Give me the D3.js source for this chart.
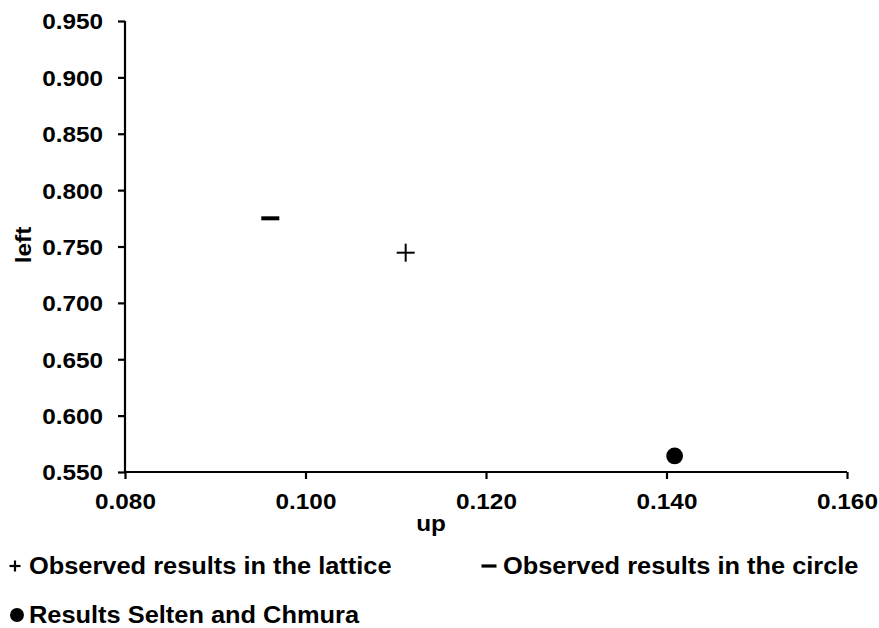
<!DOCTYPE html>
<html lang="en">

<head>
  <meta charset="utf-8">
  <title>up vs left</title>
  <script src="https://d3js.org/d3.v7.min.js"></script>
  <style>
    body { margin: 0; background: #fff; }
    text { font-family: "Liberation Sans", Arial, sans-serif; font-weight: bold; fill: #000; }
  </style>
</head>

<body>
  <script>
    // data
    var seriesNames = ['Observed results in the lattice', 'Observed results in the circle', 'Results Selten and Chmura'];
    var seriesSymbols = ['plus', 'dash', 'circle'];
    var upValues = [0.1111, 0.0961, 0.1409];
    var leftValues = [0.7445, 0.775, 0.5642];
    var xTicks = [0.080, 0.100, 0.120, 0.140, 0.160];
    var yTicks = [0.550, 0.600, 0.650, 0.700, 0.750, 0.800, 0.850, 0.900, 0.950];

    var w = 879, h = 628;
    var margin = { top: 21, right: 32, bottom: 156, left: 125 };
    var innerW = w - margin.left - margin.right;
    var innerH = h - margin.top - margin.bottom;
    var stretch = 1.08; // the original text is a bit wider than Arial

    var svg = d3.select('body').append('svg')
      .attr('width', w)
      .attr('height', h);
    var g = svg.append('g')
      .attr('transform', 'translate(' + [margin.left, margin.top] + ')');

    function widen(sel) {
      sel.each(function() {
        var t = d3.select(this);
        t.attr('textLength', this.getComputedTextLength() * stretch)
          .attr('lengthAdjust', 'spacingAndGlyphs');
      });
    }

    var x = d3.scaleLinear().domain([0.08, 0.16]).range([0, innerW]);
    var y = d3.scaleLinear().domain([0.55, 0.95]).range([innerH, 0]);

    var xAxis = g.append('g')
      .attr('transform', 'translate(0,' + innerH + ')')
      .call(d3.axisBottom(x).tickValues(xTicks).tickFormat(d3.format('.3f')).tickSize(7).tickPadding(14));
    var yAxis = g.append('g')
      .call(d3.axisLeft(y).tickValues(yTicks).tickFormat(d3.format('.3f')).tickSize(7).tickPadding(15));

    [xAxis, yAxis].forEach(function(a) {
      a.select('.domain').remove();
      a.selectAll('line').attr('stroke', '#000').attr('stroke-width', 2.2);
      a.selectAll('text').style('font-size', '22.5px').attr('fill', '#000').call(widen);
    });
    xAxis.selectAll('text').attr('dy', '0.71em');
    yAxis.selectAll('text').attr('dy', '0.35em');

    // plain axis lines
    g.append('line').attr('x1', 0).attr('x2', innerW).attr('y1', innerH).attr('y2', innerH)
      .attr('stroke', '#000').attr('stroke-width', 2.2);
    g.append('line').attr('x1', 0).attr('x2', 0).attr('y1', 0).attr('y2', innerH)
      .attr('stroke', '#000').attr('stroke-width', 2.2);

    // axis titles
    svg.append('text')
      .attr('x', 431).attr('y', 531)
      .attr('text-anchor', 'middle')
      .style('font-size', '22.5px')
      .text('up').call(widen);
    svg.append('text')
      .attr('transform', 'translate(31,245) rotate(-90)')
      .attr('text-anchor', 'middle')
      .style('font-size', '22.5px')
      .text('left').call(widen);

    function drawSymbol(sel, type, size, sw) {
      if (type === 'plus') {
        sel.append('line').attr('x1', -size).attr('x2', size).attr('stroke', '#000').attr('stroke-width', sw);
        sel.append('line').attr('y1', -size).attr('y2', size).attr('stroke', '#000').attr('stroke-width', sw);
      } else if (type === 'dash') {
        sel.append('rect').attr('x', -size).attr('y', -sw).attr('width', size * 2).attr('height', sw * 2).attr('fill', '#000');
      } else {
        sel.append('circle').attr('r', size * 0.93).attr('fill', '#000');
      }
    }

    var points = g.selectAll('.pt')
      .data(seriesNames)
    .enter().append('g')
      .attr('class', 'pt')
      .attr('transform', function(d, i) { return 'translate(' + [x(upValues[i]), y(leftValues[i])] + ')'; });
    points.each(function(d, i) { drawSymbol(d3.select(this), seriesSymbols[i], 9, 2); });

    // legend
    var legendPos = [[15, 566], [489, 566], [17, 615]];
    var legendText = [29, 503, 29];
    var legend = svg.selectAll('.legend')
      .data(seriesNames)
    .enter().append('g')
      .attr('class', 'legend')
      .attr('transform', function(d, i) { return 'translate(' + legendPos[i] + ')'; });
    legend.each(function(d, i) {
      var size = seriesSymbols[i] === 'circle' ? 7.5 : (seriesSymbols[i] === 'dash' ? 7.5 : 5.5);
      drawSymbol(d3.select(this), seriesSymbols[i], size, seriesSymbols[i] === 'dash' ? 1.6 : 2.2);
    });
    legend.append('text')
      .attr('x', function(d, i) { return legendText[i] - legendPos[i][0]; })
      .attr('y', 0)
      .attr('dy', '0.36em')
      .style('font-size', '23.5px')
      .text(function(d) { return d; })
      .call(widen);
  </script>
</body>

</html>
